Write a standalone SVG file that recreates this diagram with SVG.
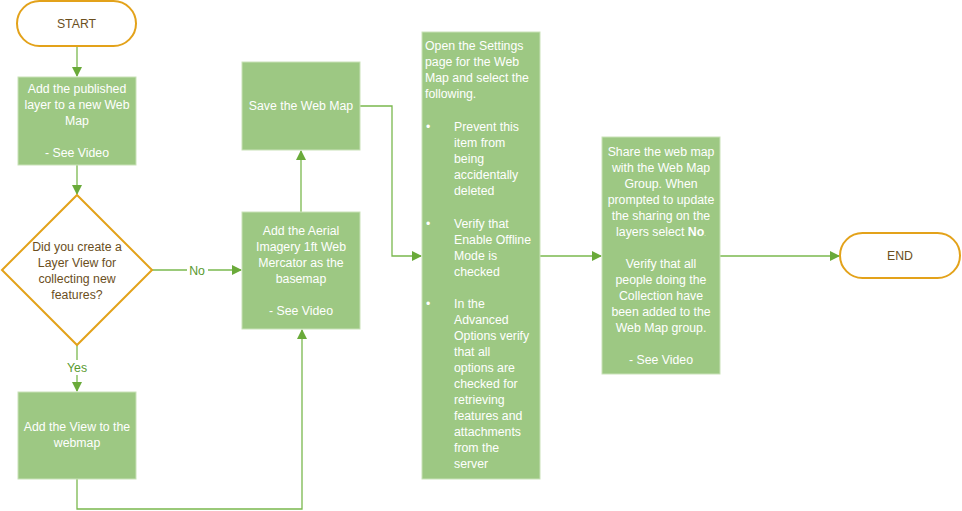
<svg xmlns="http://www.w3.org/2000/svg" width="962" height="511" viewBox="0 0 962 511">
<defs>
<marker id="ah" markerWidth="10" markerHeight="10" refX="9" refY="5" orient="auto" markerUnits="userSpaceOnUse">
<path d="M0,0 L10,5 L0,10 Z" fill="#6aaa3a"/>
</marker>
<style>
.box{fill:#9dc883;stroke:#c9e2b8;stroke-width:1}
.term{fill:#fff;stroke:#e3a21a;stroke-width:2}
.bt{font-family:"Liberation Sans",Arial,sans-serif;font-size:12.3px;fill:#ffffff;text-anchor:middle}
.bl{font-family:"Liberation Sans",Arial,sans-serif;font-size:12.3px;fill:#ffffff}
.tt{font-family:"Liberation Sans",Arial,sans-serif;font-size:12.3px;fill:#6b4f1d;text-anchor:middle}
.lbl{font-family:"Liberation Sans",Arial,sans-serif;font-size:12.3px;fill:#5a9a30;text-anchor:middle}
.con{fill:none;stroke:#7ab84e;stroke-width:1.3}
</style>
</defs>
<rect width="962" height="511" fill="#ffffff"/>
<g id="connectors">
<path class="con" d="M77,46 V76" marker-end="url(#ah)"/>
<path class="con" d="M77,165 V194" marker-end="url(#ah)"/>
<path class="con" d="M152,270 H241" marker-end="url(#ah)"/>
<path class="con" d="M77,345 V391" marker-end="url(#ah)"/>
<path class="con" d="M77,479 V509 H302 V330" marker-end="url(#ah)"/>
<path class="con" d="M301,212 V151" marker-end="url(#ah)"/>
<path class="con" d="M360,106 H392 V256 H421" marker-end="url(#ah)"/>
<path class="con" d="M540,256 H601" marker-end="url(#ah)"/>
<path class="con" d="M720,256 H839" marker-end="url(#ah)"/>
<rect x="187" y="262" width="21" height="16" fill="#fff"/>
<text class="lbl" x="197" y="275">No</text>
<rect x="64" y="360" width="26" height="15" fill="#fff"/>
<text class="lbl" x="77" y="372">Yes</text>
</g>
<g id="start">
<rect class="term" x="17" y="1" width="119" height="45" rx="22.5"/>
<text class="tt" x="76.5" y="28">START</text>
</g>
<g id="add-layer">
<rect class="box" x="18" y="77" width="118" height="88"/>
<text class="bt" x="77" y="93">Add the published</text>
<text class="bt" x="77" y="109">layer to a new Web</text>
<text class="bt" x="77" y="125">Map</text>
<text class="bt" x="77" y="157">- See Video</text>
</g>
<g id="decision">
<polygon points="77,195 152,270 77,345 2,270" fill="#fff" stroke="#e3a21a" stroke-width="2"/>
<text class="tt" x="77" y="251">Did you create a</text>
<text class="tt" x="77" y="267">Layer View for</text>
<text class="tt" x="77" y="283">collecting new</text>
<text class="tt" x="77" y="299">features?</text>
</g>
<g id="add-view">
<rect class="box" x="18" y="392" width="118" height="87"/>
<text class="bt" x="77" y="431">Add the View to the</text>
<text class="bt" x="77" y="447">webmap</text>
</g>
<g id="add-aerial">
<rect class="box" x="242" y="212" width="118" height="117"/>
<text class="bt" x="301" y="235">Add the Aerial</text>
<text class="bt" x="301" y="251">Imagery 1ft Web</text>
<text class="bt" x="301" y="267">Mercator as the</text>
<text class="bt" x="301" y="283">basemap</text>
<text class="bt" x="301" y="315">- See Video</text>
</g>
<g id="save">
<rect class="box" x="242" y="62" width="118" height="88"/>
<text class="bt" x="301" y="110">Save the Web Map</text>
</g>
<g id="settings">
<rect class="box" x="422" y="32" width="118" height="447"/>
<text class="bl" x="425" y="50">Open the Settings</text>
<text class="bl" x="425" y="66">page for the Web</text>
<text class="bl" x="425" y="82">Map and select the</text>
<text class="bl" x="425" y="98">following.</text>
<text class="bl" x="426" y="131">•</text>
<text class="bl" x="454" y="131">Prevent this</text>
<text class="bl" x="454" y="147">item from</text>
<text class="bl" x="454" y="163">being</text>
<text class="bl" x="454" y="179">accidentally</text>
<text class="bl" x="454" y="195">deleted</text>
<text class="bl" x="426" y="228">•</text>
<text class="bl" x="454" y="228">Verify that</text>
<text class="bl" x="454" y="244">Enable Offline</text>
<text class="bl" x="454" y="260">Mode is</text>
<text class="bl" x="454" y="276">checked</text>
<text class="bl" x="426" y="308">•</text>
<text class="bl" x="454" y="308">In the</text>
<text class="bl" x="454" y="324">Advanced</text>
<text class="bl" x="454" y="340">Options verify</text>
<text class="bl" x="454" y="356">that all</text>
<text class="bl" x="454" y="372">options are</text>
<text class="bl" x="454" y="388">checked for</text>
<text class="bl" x="454" y="404">retrieving</text>
<text class="bl" x="454" y="420">features and</text>
<text class="bl" x="454" y="436">attachments</text>
<text class="bl" x="454" y="452">from the</text>
<text class="bl" x="454" y="468">server</text>
</g>
<g id="share">
<rect class="box" x="602" y="137" width="118" height="237"/>
<text class="bt" x="661" y="156">Share the web map</text>
<text class="bt" x="661" y="172">with the Web Map</text>
<text class="bt" x="661" y="188">Group.  When</text>
<text class="bt" x="661" y="204">prompted to update</text>
<text class="bt" x="661" y="220">the sharing on the</text>
<text class="bt" x="661" y="236">layers select <tspan font-weight="bold">No</tspan><tspan font-size="6">.</tspan></text>
<text class="bt" x="661" y="268">Verify that all</text>
<text class="bt" x="661" y="284">people doing the</text>
<text class="bt" x="661" y="300">Collection have</text>
<text class="bt" x="661" y="316">been added to the</text>
<text class="bt" x="661" y="332">Web Map group.</text>
<text class="bt" x="661" y="364">- See Video</text>
</g>
<g id="end">
<rect class="term" x="840" y="233" width="120" height="45" rx="22.5"/>
<text class="tt" x="900" y="260">END</text>
</g>
</svg>
